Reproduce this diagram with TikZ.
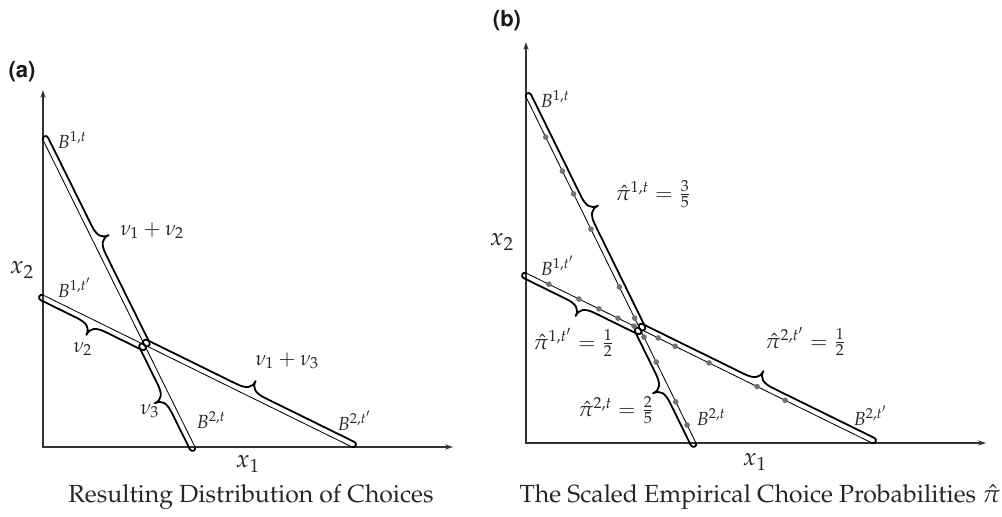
\documentclass[tikz,border=0pt]{standalone}
\usepackage[T1]{fontenc}
\usepackage{mathpazo}
\usepackage[scaled=0.92]{helvet}
\usetikzlibrary{arrows.meta,calc}
\def\capd{2.8pt}
\def\capr{1.4pt}
\def\bw{8pt}
\def\ba{5.5pt}
\newcommand\capsule[3]{%
  \path let \p1=(#1), \p2=(#2) in \pgfextra{%
    \pgfmathsetmacro\tmpang{atan2(\y2-\y1,\x2-\x1)}%
    \pgfmathsetmacro\tmplen{veclen(\x2-\x1,\y2-\y1)}%
    \global\let\capang\tmpang \global\let\caplen\tmplen};
  \begin{scope}[shift={(#1)}, rotate=\capang]
    \pgfmathsetmacro\hl{\caplen/2}
    \draw[capline] (0pt,0pt) arc[start angle={180+#3*90}, end angle={180-#3*90}, radius=\capr]
      -- ({\hl pt-\bw},{#3*\capd})
      .. controls ({\hl pt-0.3*\bw},{#3*\capd}) and (\hl pt,{#3*(\capd+0.3*\ba)}) .. (\hl pt,{#3*(\capd+\ba)})
      .. controls (\hl pt,{#3*(\capd+0.3*\ba)}) and ({\hl pt+0.3*\bw},{#3*\capd}) .. ({\hl pt+\bw},{#3*\capd})
      -- (\caplen pt,{#3*\capd}) arc[start angle={#3*90}, end angle={-#3*90}, radius=\capr];
  \end{scope}}
\begin{document}
\begin{tikzpicture}[x=0.5pt,y=-0.5pt,
  axisline/.style={draw=black!80, line width=0.6pt, {Stealth[length=4pt,width=2.6pt]}-{Stealth[length=4pt,width=2.6pt]}},
  budget/.style={draw=black, line width=0.42pt},
  capline/.style={draw=black, line width=0.9pt, line join=round, line cap=round},
  mlabel/.style={font=\fontsize{10.5}{12}\selectfont, text=black!85, inner sep=0pt, anchor=base west},
  blabel/.style={font=\fontsize{9.5}{11}\selectfont, text=black!85, inner sep=0pt, anchor=base west},
  axlabel/.style={font=\fontsize{12.5}{14}\selectfont, text=black!85, inner sep=0pt},
  captext/.style={font=\fontsize{12.4}{14}\selectfont, text=black!85, inner sep=0pt},
  panel/.style={font=\sffamily\bfseries\fontsize{12}{14}\selectfont, text=black!90, inner sep=0pt},
  gdot/.style={fill=black!55}]
\useasboundingbox (0,0) rectangle (1002,516);
% ---------- panel (a)
\coordinate (aO) at (43,447);
\coordinate (aY) at (43,90);
\coordinate (aX) at (453,447);
\coordinate (aB1) at (43,140);
\coordinate (aF1) at (195,447);
\coordinate (aB2) at (43,295);
\coordinate (aF2) at (352,447);
\coordinate (aI) at (intersection of aB1--aF1 and aB2--aF2);
\draw[axisline] (aY) -- (aO) -- (aX);
\draw[budget] (aB1) -- (aF1);
\draw[budget] (aB2) -- (aF2);
\capsule{aB1}{aI}{1}
\capsule{aI}{aF1}{-1}
\capsule{aB2}{aI}{-1}
\capsule{aI}{aF2}{1}
\node[panel] (alab) at (22,72) {(a)};
\node[axlabel] (ax2) at (22,270) {$x_2$};
\node[axlabel] (ax1) at (248,464) {$x_1$};
\node[blabel] (aB1t) at (57,148) {$B^{1,t}$};
\node[blabel] (aB1tp) at (57,297) {$B^{1,t'}$};
\node[blabel] (aB2t) at (196,428) {$B^{2,t}$};
\node[blabel] (aB2tp) at (337,430) {$B^{2,t'}$};
\node[mlabel] (anu12) at (120,235) {$\nu_1+\nu_2$};
\node[mlabel] (anu2) at (73,352) {$\nu_2$};
\node[mlabel] (anu3) at (140,414) {$\nu_3$};
\node[mlabel] (anu13) at (255,365) {$\nu_1+\nu_3$};
\node[captext] (acap) at (251,497) {Resulting Distribution of Choices};
% ---------- panel (b)
\coordinate (bO) at (526,443);
\coordinate (bY) at (526,42);
\coordinate (bX) at (986,443);
\coordinate (bB1) at (526,97);
\coordinate (bF1) at (696,443);
\coordinate (bB2) at (526,273);
\coordinate (bF2) at (872,443);
\coordinate (bI) at (intersection of bB1--bF1 and bB2--bF2);
\draw[axisline] (bY) -- (bO) -- (bX);
\draw[budget] (bB1) -- (bF1);
\draw[budget] (bB2) -- (bF2);
\capsule{bB1}{bI}{1}
\capsule{bI}{bF1}{-1}
\capsule{bB2}{bI}{-1}
\capsule{bI}{bF2}{1}
\foreach \t in {0.116,0.214,0.280,0.382,0.549,0.639,0.694,0.766,0.881,0.948}
  \fill[gdot] ($(bB1)!\t!(bF1)$) circle (1.4pt);
\foreach \t in {0.066,0.153,0.211,0.266,0.312,0.382,0.431,0.529,0.668,0.749}
  \fill[gdot] ($(bB2)!\t!(bF2)$) circle (1.4pt);
\node[panel] (blab) at (507,21) {(b)};
\node[axlabel] (bx2) at (502,242) {$x_2$};
\node[axlabel] (bx1) at (755,462) {$x_1$};
\node[blabel] (bB1t) at (540,107) {$B^{1,t}$};
\node[blabel] (bB1tp) at (540,275) {$B^{1,t'}$};
\node[blabel] (bB2t) at (696,425) {$B^{2,t}$};
\node[blabel] (bB2tp) at (853,425) {$B^{2,t'}$};
\node[mlabel] (bp1t) at (615,200) {$\hat\pi^{1,t}=\frac{3}{5}$};
\node[mlabel] (bp1tp) at (533,349) {$\hat\pi^{1,t'}=\frac{1}{2}$};
\node[mlabel] (bp2t) at (578,416) {$\hat\pi^{2,t}=\frac{2}{5}$};
\node[mlabel] (bp2tp) at (765,348) {$\hat\pi^{2,t'}=\frac{1}{2}$};
\node[captext] (bcap) at (760,497) {The Scaled Empirical Choice Probabilities $\hat\pi$};
\end{tikzpicture}
\end{document}
